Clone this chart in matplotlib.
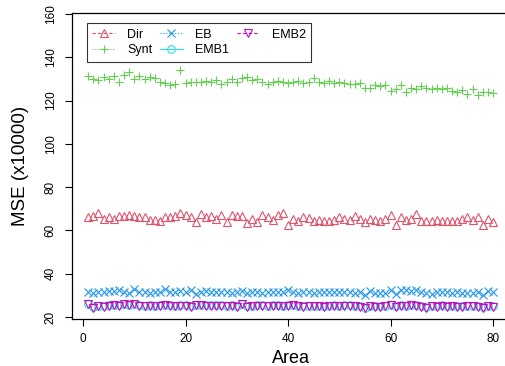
import matplotlib.pyplot as plt
from matplotlib.lines import Line2D

plt.rcParams['font.family'] = ['Liberation Sans', 'DejaVu Sans']

# MSE (x10000) per area
area = list(range(1, 81))
dir_mse = [66.3, 66.7, 68.2, 65.1, 66.3, 65.2, 66.7, 66.7, 67.1, 66.7,
           66.0, 66.3, 64.8, 64.8, 64.5, 66.3, 66.3, 66.7, 67.9, 67.1,
           66.3, 64.0, 67.5, 66.0, 66.7, 65.1, 67.1, 64.0, 67.1, 66.7,
           66.7, 63.4, 65.1, 63.7, 67.3, 66.0, 64.8, 67.1, 68.2, 62.5,
           65.1, 64.5, 66.0, 65.6, 64.5, 65.0, 64.5, 64.5, 65.0, 66.0,
           65.5, 64.8, 66.7, 65.5, 63.7, 65.5, 65.0, 64.5, 65.5, 67.1,
           62.5, 66.0, 64.8, 65.5, 67.5, 64.5, 64.5, 64.2, 64.8, 64.5,
           64.5, 64.2, 64.5, 65.5, 66.0, 65.0, 66.0, 62.5, 65.1, 63.7]
synt_mse = [131.5, 130.0, 129.5, 131.0, 130.0, 131.5, 128.5, 132.0, 133.0, 130.0,
            131.5, 130.0, 131.0, 130.5, 128.5, 128.0, 127.0, 127.5, 134.0, 128.0,
            128.5, 128.5, 128.5, 129.0, 128.5, 129.5, 127.5, 128.5, 130.0, 128.5,
            130.5, 131.0, 129.5, 130.0, 128.5, 127.5, 128.5, 129.0, 128.5, 128.0,
            128.5, 129.0, 128.0, 128.5, 130.5, 128.5, 128.0, 129.0, 128.0, 128.5,
            128.0, 127.5, 127.5, 128.0, 126.0, 126.0, 127.0, 126.5, 127.0, 124.5,
            125.5, 127.0, 124.0, 126.0, 125.5, 126.5, 126.0, 125.5, 126.0, 125.5,
            126.0, 124.5, 124.0, 125.0, 123.0, 125.5, 122.5, 124.0, 124.0, 123.5]
eb_mse = [31.5, 31.0, 31.5, 31.5, 32.0, 32.0, 32.3, 31.5, 31.3, 33.0,
          31.5, 31.5, 31.3, 31.5, 31.5, 33.0, 31.5, 31.5, 32.0, 31.5,
          32.5, 30.5, 31.5, 32.0, 31.5, 31.5, 31.8, 31.5, 31.3, 31.5,
          32.0, 31.0, 31.5, 31.5, 31.3, 31.5, 31.8, 31.5, 31.5, 32.5,
          31.5, 31.0, 31.5, 31.5, 31.3, 31.5, 31.5, 31.5, 31.8, 31.5,
          31.8, 31.5, 31.3, 31.5, 30.0, 32.0, 31.3, 31.3, 31.3, 32.3,
          30.5, 32.5, 32.3, 32.0, 32.3, 31.5, 31.3, 30.5, 31.5, 31.5,
          31.8, 31.3, 31.5, 31.3, 31.3, 31.3, 31.5, 30.0, 32.0, 31.5]
emb1_mse = [26.0, 24.6, 25.2, 25.0, 25.5, 25.6, 25.5, 26.0, 25.7, 26.1,
            25.5, 25.2, 25.5, 25.2, 25.4, 25.7, 25.4, 25.2, 25.4, 25.5,
            25.0, 25.7, 25.6, 25.5, 25.5, 25.4, 25.5, 25.2, 25.5, 25.0,
            26.1, 25.0, 25.2, 25.5, 25.4, 25.2, 25.5, 25.4, 25.2, 25.5,
            25.7, 25.2, 25.0, 25.2, 25.2, 25.2, 25.0, 25.2, 25.5, 25.2,
            25.4, 25.5, 25.2, 25.0, 24.3, 25.2, 25.0, 25.0, 25.2, 25.7,
            25.0, 25.5, 25.2, 25.7, 25.5, 25.0, 24.6, 25.2, 25.0, 25.5,
            25.0, 25.2, 25.0, 25.0, 25.2, 25.2, 25.0, 24.5, 25.2, 25.0]
emb2_mse = [25.8, 24.3, 25.0, 24.8, 25.3, 25.5, 25.3, 25.8, 25.5, 26.0,
            25.3, 25.0, 25.3, 25.0, 25.2, 25.5, 25.2, 25.0, 25.2, 25.3,
            24.8, 25.5, 25.5, 25.3, 25.3, 25.2, 25.3, 25.0, 25.3, 24.8,
            26.0, 24.8, 25.0, 25.3, 25.2, 25.0, 25.3, 25.2, 25.0, 25.3,
            25.5, 25.0, 24.8, 25.0, 25.0, 25.0, 24.8, 25.0, 25.3, 25.0,
            25.2, 25.3, 25.0, 24.8, 24.0, 25.0, 24.8, 24.8, 25.0, 25.5,
            24.8, 25.3, 25.0, 25.5, 25.3, 24.8, 24.3, 25.0, 24.8, 25.3,
            24.8, 25.0, 24.8, 24.8, 25.0, 25.0, 24.8, 24.2, 25.0, 24.8]

labels = ['Dir', 'Synt', 'EB', 'EMB1', 'EMB2']
colors = ['#DF536B', '#61D04F', '#2297E6', '#28E2E5', '#CD0BBC']
markers = ['^', '+', 'x', 'o', 'v']
styles = [(0, (3, 2)), ':', ':', '-', (0, (3, 2))]
series = [dir_mse, synt_mse, eb_mse, emb1_mse, emb2_mse]

fig = plt.figure(figsize=(5.05, 3.66), dpi=100)
ax = fig.add_axes([72 / 505, 1 - 319 / 366, 437 / 505, 306 / 366])

for vals, c, m in zip(series, colors, markers):
    ax.plot(area, vals, linestyle='none', marker=m, markersize=5.5,
            markerfacecolor='none', markeredgecolor=c, markeredgewidth=0.8)

ax.set_xlim(-2.15, 83.1)
ax.set_ylim(19.1, 160.45)
ax.set_xticks([0, 20, 40, 60, 80])
ax.set_yticks(range(20, 161, 20))
ax.tick_params(direction='out', length=5, width=0.8, labelsize=8.5, pad=5)
ax.tick_params(axis='y', labelrotation=90, pad=6)
for lab in ax.get_yticklabels():
    lab.set_verticalalignment('center')
ax.spines['right'].set_visible(False)
for s in ax.spines.values():
    s.set_linewidth(0.9)

ax.set_xlabel('Area', fontsize=13, labelpad=4)
ax.set_ylabel('MSE (x10000)', fontsize=13.5, labelpad=11)

handles = [Line2D([0], [0], color=c, linestyle=ls, linewidth=0.8, marker=m,
                  markersize=5.5, markerfacecolor='none', markeredgecolor=c,
                  markeredgewidth=0.8)
           for c, m, ls in zip(colors, markers, styles)]
leg = ax.legend(handles, labels, ncol=3, loc='upper left',
                bbox_to_anchor=(0.034, 0.967), fontsize=9, frameon=True,
                fancybox=False, edgecolor='black', handlelength=1.8,
                handletextpad=1.0, columnspacing=0.6, labelspacing=0.3,
                borderpad=0.45, borderaxespad=0)
leg.get_frame().set_linewidth(0.8)

fig.savefig('out.png', dpi=100)
